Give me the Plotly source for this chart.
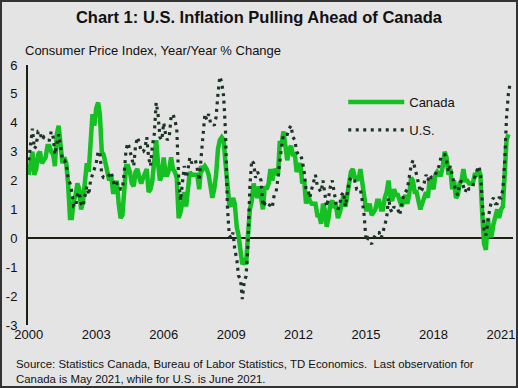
import pandas as pd
import plotly.graph_objects as go

canada = [
    2.2, 2.7, 3.0, 2.2, 2.4, 2.9, 3.0, 2.6, 2.7, 2.8, 3.2, 3.2,
    3.0, 2.9, 2.5, 3.6, 3.9, 3.3, 2.6, 2.8, 2.6, 1.9, 0.7, 0.7,
    1.3, 1.5, 1.9, 1.7, 1.0, 1.3, 2.1, 2.6, 2.3, 3.2, 4.3, 3.9,
    4.5, 4.7, 4.3, 3.0, 2.9, 2.6, 2.2, 2.0, 2.2, 1.6, 1.6, 2.0,
    1.2, 0.7, 0.8, 1.7, 2.5, 2.5, 2.3, 1.9, 1.8, 2.3, 2.4, 2.1,
    1.9, 2.1, 2.3, 2.4, 1.6, 1.7, 2.0, 2.6, 3.4, 2.6, 2.0, 2.2,
    2.8, 2.2, 2.2, 2.4, 2.8, 2.4, 2.3, 2.1, 0.7, 0.9, 1.4, 1.6,
    1.1, 2.0, 2.3, 2.2, 2.2, 2.2, 2.2, 1.7, 2.5, 2.4, 2.5, 2.4,
    2.2, 1.8, 1.4, 1.7, 2.2, 3.1, 3.4, 3.5, 3.4, 2.6, 2.0, 1.2,
    1.1, 1.4, 1.2, 0.4, 0.1, -0.3, -0.9, -0.8, -0.9, 0.1, 1.0, 1.3,
    1.9, 1.6, 1.4, 1.8, 1.4, 1.0, 1.8, 1.7, 1.9, 2.4, 2.0, 2.4,
    2.3, 2.2, 3.3, 3.3, 3.7, 3.1, 2.7, 3.1, 3.2, 2.9, 2.9, 2.3,
    2.5, 2.6, 1.9, 2.0, 1.2, 1.5, 1.3, 1.2, 1.2, 1.2, 0.8, 0.8,
    0.5, 1.2, 1.0, 0.4, 0.7, 1.2, 1.3, 1.1, 1.1, 0.7, 0.9, 1.2,
    1.5, 1.1, 1.5, 2.0, 2.3, 2.4, 2.1, 2.1, 2.0, 2.4, 2.0, 1.5,
    1.0, 1.0, 1.2, 0.8, 0.9, 1.0, 1.3, 1.3, 1.0, 1.0, 1.4, 1.6,
    2.0, 1.4, 1.3, 1.7, 1.5, 1.5, 1.3, 1.1, 1.3, 1.5, 1.2, 1.5,
    2.1, 2.0, 1.6, 1.6, 1.3, 1.0, 1.2, 1.4, 1.6, 1.4, 2.1, 1.9,
    1.7, 2.2, 2.3, 2.2, 2.2, 2.5, 3.0, 2.8, 2.2, 2.4, 1.7, 2.0,
    1.4, 1.5, 1.9, 2.0, 2.4, 2.0, 2.0, 1.9, 1.9, 1.9, 2.2, 2.2,
    2.4, 2.2, 0.9, -0.2, -0.4, 0.7, 0.1, 0.1, 0.5, 0.7, 1.0, 0.7,
    1.0, 1.1, 2.2, 3.4, 3.6,
]

us = [
    2.7, 3.2, 3.8, 3.1, 3.2, 3.7, 3.7, 3.4, 3.5, 3.4, 3.4, 3.4,
    3.7, 3.5, 2.9, 3.3, 3.6, 3.2, 2.7, 2.7, 2.6, 2.1, 1.9, 1.6,
    1.1, 1.1, 1.5, 1.6, 1.2, 1.1, 1.5, 1.8, 1.5, 2.0, 2.2, 2.4,
    2.6, 3.0, 3.0, 2.2, 2.1, 2.1, 2.1, 2.2, 2.3, 2.0, 1.8, 1.9,
    1.9, 1.7, 1.7, 2.3, 3.1, 3.3, 3.0, 2.7, 2.5, 3.2, 3.5, 3.3,
    3.0, 3.0, 3.1, 3.5, 2.8, 2.5, 3.2, 3.6, 4.7, 4.3, 3.5, 3.4,
    4.0, 3.6, 3.4, 3.5, 4.2, 4.3, 4.1, 3.8, 2.1, 1.3, 2.0, 2.5,
    2.1, 2.4, 2.8, 2.6, 2.7, 2.7, 2.4, 2.0, 2.8, 3.5, 4.3, 4.1,
    4.3, 4.0, 4.0, 3.9, 4.2, 5.0, 5.6, 5.4, 4.9, 3.7, 1.1, 0.1,
    0.0, 0.2, -0.4, -0.7, -1.3, -1.4, -2.1, -1.5, -1.3, -0.2, 1.8, 2.7,
    2.6, 2.1, 2.3, 2.2, 2.0, 1.1, 1.2, 1.1, 1.1, 1.2, 1.1, 1.5,
    1.6, 2.1, 2.7, 3.2, 3.6, 3.6, 3.6, 3.8, 3.9, 3.5, 3.4, 3.0,
    2.9, 2.9, 2.7, 2.3, 1.7, 1.7, 1.4, 1.7, 2.0, 2.2, 1.8, 1.7,
    1.6, 2.0, 1.5, 1.1, 1.4, 1.8, 2.0, 1.5, 1.2, 1.0, 1.2, 1.5,
    1.6, 1.1, 1.5, 2.0, 2.1, 2.1, 2.0, 1.7, 1.7, 1.7, 1.3, 0.8,
    -0.1, 0.0, -0.1, -0.2, 0.0, 0.1, 0.2, 0.2, 0.0, 0.2, 0.5, 0.7,
    1.4, 1.0, 0.9, 1.1, 1.0, 1.0, 0.8, 1.1, 1.5, 1.6, 1.7, 2.1,
    2.5, 2.7, 2.4, 2.2, 1.9, 1.6, 1.7, 1.9, 2.2, 2.0, 2.2, 2.1,
    2.1, 2.2, 2.4, 2.5, 2.8, 2.9, 2.9, 2.7, 2.3, 2.5, 2.2, 1.9,
    1.6, 1.5, 1.9, 2.0, 1.8, 1.6, 1.8, 1.7, 1.7, 1.8, 2.1, 2.3,
    2.5, 2.3, 1.5, 0.3, 0.1, 0.6, 1.0, 1.3, 1.4, 1.2, 1.2, 1.4,
    1.4, 1.7, 2.6, 4.2, 5.0, 5.4,
]

dates_ca = pd.date_range("2000-01-01", periods=len(canada), freq="MS")
dates_us = pd.date_range("2000-01-01", periods=len(us), freq="MS")

tick_years = [2000, 2003, 2006, 2009, 2012, 2015, 2018, 2021]
tick_vals = [f"{y}-01-01" for y in tick_years]
tick_text = [str(y) for y in tick_years]
y_ticks = [-3, -2, -1, 0, 1, 2, 3, 4, 5, 6]
y_text = ["-3", "-2", "-1", "0", "1", "2", "3", "4", "5", "6"]

FONT = "Liberation Sans, Arial, sans-serif"

fig = go.Figure()
fig.add_trace(go.Scatter(
    x=dates_ca, y=canada, mode="lines", name="Canada",
    line=dict(color="#14c022", width=4.5), legendgroup="a",
))
fig.add_trace(go.Scatter(
    x=dates_us, y=us, mode="lines", name="U.S.",
    line=dict(color="#1d3325", width=3.2, dash="3px,4.5px"), legendgroup="b",
))

fig.update_layout(
    width=518, height=388,
    paper_bgcolor="#e4e4e4", plot_bgcolor="#e4e4e4",
    margin=dict(l=28, r=5, t=65, b=63),
    font=dict(family=FONT, color="#111111", size=13),
    title=dict(text="<b>Chart 1: U.S. Inflation Pulling Ahead of Canada</b>",
               x=0.5, xanchor="center", y=0.955, yanchor="middle",
               font=dict(size=16.5, family=FONT, color="#111111")),
    showlegend=True,
    legend=dict(x=0.65, y=0.915, xanchor="left", yanchor="top",
                bgcolor="rgba(0,0,0,0)", font=dict(size=13, family=FONT),
                itemwidth=56, tracegroupgap=8, traceorder="grouped"),
    xaxis=dict(
        range=["1999-12-20", "2021-07-15"],
        tickvals=tick_vals, ticktext=tick_text,
        showgrid=False, showline=False, zeroline=False, ticks="",
        automargin=False,
        tickfont=dict(size=13, family=FONT, color="#111111"),
    ),
    yaxis=dict(
        range=[-3, 6], tickvals=y_ticks, ticktext=y_text,
        showgrid=False, showline=True, linecolor="#1c1f14", linewidth=2,
        zeroline=True, zerolinecolor="#1c1f14", zerolinewidth=2,
        ticks="", ticklabelstandoff=6, automargin=False,
        tickfont=dict(size=13, family=FONT, color="#111111"),
    ),
    shapes=[dict(type="rect", xref="paper", yref="paper",
                 x0=-27/485, x1=1+4/485, y0=-62/260, y1=1+64/260,
                 line=dict(color="#333333", width=2), fillcolor="rgba(0,0,0,0)",
                 layer="below")],
    annotations=[
        dict(text="Consumer Price Index, Year/Year % Change", xref="paper", yref="paper",
             x=-5/485, y=1+15/260, xanchor="left", yanchor="middle", showarrow=False,
             font=dict(size=13, family=FONT, color="#111111")),
        dict(text="Source: Statistics Canada, Bureau of Labor Statistics, TD Economics.  Last observation for<br>Canada is May 2021, while for U.S. is June 2021.",
             xref="paper", yref="paper", x=-14/485, y=-(363-325-7)/260,
             xanchor="left", yanchor="top", showarrow=False, align="left",
             font=dict(size=11.4, family=FONT, color="#111111")),
    ],
)

fig.write_html("out.html", config={"displayModeBar": False},
               post_script="document.body.style.margin='0';document.body.style.overflow='hidden';")
